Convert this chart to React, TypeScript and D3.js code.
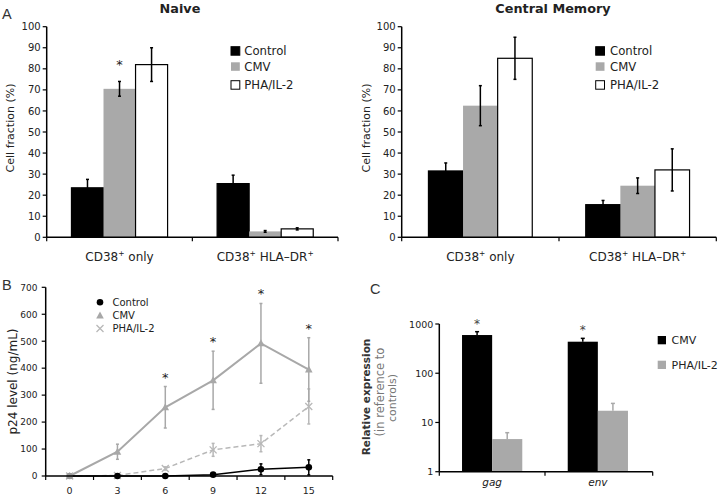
import React from "react";
import * as d3 from "d3";

const barSeries = ["Control", "CMV", "PHA/IL-2"];
const barCategories = ["only", "HLA"];
const naiveValues = [[23.5, 25.5], [70.5, 2.8], [82, 4]];
const naiveErrors = [[4, 4], [3.5, 0.4], [8, 0.5]];
const cmValues = [[31.5, 15.5], [62.5, 24.5], [85, 32]];
const cmErrors = [[3.8, 2], [9.5, 3.7], [10, 10]];
const barTicks = [0, 10, 20, 30, 40, 50, 60, 70, 80, 90, 100];

const days = [0, 3, 6, 9, 12, 15];
const p24Control = [0, 0, 0, 5, 25, 32];
const p24ControlErr = [0, 0, 0, 3, 20, 28];
const p24CMV = [0, 90, 255, 355, 492, 395];
const p24CMVErr = [0, 28, 77, 108, 148, 118];
const p24PHA = [0, 2, 28, 97, 120, 258];
const p24PHAErr = [0, 2, 6, 24, 30, 65];
const p24Ticks = [0, 100, 200, 300, 400, 500, 600, 700];
const p24Stars = [6, 9, 12, 15];

const genes = ["gag", "env"];
const exprSeries = ["CMV", "PHA/IL-2"];
const exprValues = [[597, 437], [4.6, 17.3]];
const exprErrTop = [[698, 511], [6.2, 24.4]];
const exprTicks = [1, 10, 100, 1000];

const FONT = "'DejaVu Sans', Verdana, sans-serif";
const LFONT = "'Liberation Sans', Arial, sans-serif";
const barFill = ["#000000", "#a9a9a9", "#ffffff"];
const barStroke = ["#000000", "none", "#000000"];

function CatLabel({ x, y, cat }: { x: number; y: number; cat: string }) {
  return (
    <text x={x} y={y} textAnchor="middle" fontSize={12} fontFamily={FONT} fill="#222">
      CD38<tspan fontSize={7.5} dy={-5}>+</tspan>
      <tspan dy={5}>{cat === "only" ? " only" : " HLA\u2013DR"}</tspan>
      {cat === "only" ? null : <tspan fontSize={7.5} dy={-5}>+</tspan>}
    </text>
  );
}

function BarPanel({ x0, x1, title, titleX, values, errors, star, legendX, legendTextX }: any) {
  const y = d3.scaleLinear().domain([0, 100]).range([237.3, 26.7]);
  const xb = d3.scaleBand().domain(barCategories).range([x0, x1]).padding(0);
  const inner = d3.scaleBand().domain(barSeries).range([0, xb.bandwidth() * 0.66]);
  const off = (xb.bandwidth() * (1 - 0.66)) / 2;
  return (
    <g fontFamily={FONT}>
      <text x={titleX} y={12.5} textAnchor="middle" fontSize={12.8} fontWeight="bold" fill="#222">{title}</text>
      {barSeries.map((s, si) =>
        barCategories.map((c, ci) => {
          const bx = (xb(c) as number) + off + (inner(s) as number);
          const v = values[si][ci];
          const e = errors[si][ci];
          const cx = bx + inner.bandwidth() / 2;
          return (
            <g key={s + c}>
              <rect x={bx} y={y(v)} width={inner.bandwidth()} height={y(0) - y(v)} fill={barFill[si]} stroke={barStroke[si]} strokeWidth={1.2} />
              <line x1={cx} x2={cx} y1={y(v - e)} y2={y(v + e)} stroke="#000" strokeWidth={1.5} />
              <line x1={cx - 1.5} x2={cx + 1.5} y1={y(v + e)} y2={y(v + e)} stroke="#000" strokeWidth={1.5} />
              <line x1={cx - 1.5} x2={cx + 1.5} y1={y(v - e)} y2={y(v - e)} stroke="#000" strokeWidth={1.5} />
            </g>
          );
        })
      )}
      {star ? (
        <text x={(xb("only") as number) + off + (inner("CMV") as number) + inner.bandwidth() / 2} y={69} textAnchor="middle" fontSize={13} fill="#222">*</text>
      ) : null}
      <line x1={x0} x2={x0} y1={y(100)} y2={y(0)} stroke="#000" strokeWidth={1.5} />
      <line x1={x0} x2={x1} y1={y(0)} y2={y(0)} stroke="#000" strokeWidth={1.5} />
      {barTicks.map((t) => (
        <g key={t}>
          <line x1={x0 - 4} x2={x0} y1={y(t)} y2={y(t)} stroke="#000" strokeWidth={1.2} />
          <text x={x0 - 6} y={y(t) + 3.6} textAnchor="end" fontSize={10} fill="#222">{t}</text>
        </g>
      ))}
      {[x0, x0 + xb.step(), x1].map((t, i) => (
        <line key={i} x1={t} x2={t} y1={y(0)} y2={y(0) + 4} stroke="#000" strokeWidth={1.2} />
      ))}
      {barCategories.map((c) => (
        <CatLabel key={c} x={(xb(c) as number) + xb.bandwidth() / 2} y={261} cat={c} />
      ))}
      {barSeries.map((s, si) => (
        <g key={s}>
          <rect x={legendX} y={[46.7, 62.3, 80.7][si]} width={8.8} height={8.5} fill={barFill[si]} stroke={barStroke[si]} strokeWidth={1} />
          <text x={legendTextX} y={[55.3, 71, 89.3][si]} fontSize={11.7} fill="#222">{s}</text>
        </g>
      ))}
    </g>
  );
}

function P24Panel() {
  const x = d3.scaleLinear().domain([-1.5, 16.5]).range([45.7, 332.7]);
  const y = d3.scaleLinear().domain([0, 700]).range([476, 287.3]);
  const lineGen = (vals: number[]) =>
    d3.line<number>().x((_, i) => x(days[i])).y((v) => y(v))(vals) as string;
  const gray = "#a8a8a8";
  const lgray = "#b8b8b8";
  const err = (vals: number[], errs: number[], color: string, key: string) =>
    days.map((d, i) =>
      errs[i] > 0 ? (
        <g key={key + d}>
          <line x1={x(d)} x2={x(d)} y1={y(Math.max(0, vals[i] - errs[i]))} y2={y(vals[i] + errs[i])} stroke={color} strokeWidth={1.5} />
          <line x1={x(d) - 1.5} x2={x(d) + 1.5} y1={y(vals[i] + errs[i])} y2={y(vals[i] + errs[i])} stroke={color} strokeWidth={1.5} />
          <line x1={x(d) - 1.5} x2={x(d) + 1.5} y1={y(Math.max(0, vals[i] - errs[i]))} y2={y(Math.max(0, vals[i] - errs[i]))} stroke={color} strokeWidth={1.5} />
        </g>
      ) : null
    );
  const tri = (cx: number, cy: number, c: string, k: string) => (
    <path key={k} d={`M${cx},${cy - 4}L${cx + 3.8},${cy + 3}L${cx - 3.8},${cy + 3}Z`} fill={c} />
  );
  const cross = (cx: number, cy: number, c: string, k: string) => (
    <path key={k} d={`M${cx - 3.5},${cy - 3.5}L${cx + 3.5},${cy + 3.5}M${cx - 3.5},${cy + 3.5}L${cx + 3.5},${cy - 3.5}`} stroke={c} strokeWidth={1.3} fill="none" />
  );
  const minor = d3.range(-1.5, 17, 3);
  return (
    <g fontFamily={FONT}>
      {err(p24PHA, p24PHAErr, lgray, "pe")}
      {err(p24CMV, p24CMVErr, gray, "ce")}
      <path d={lineGen(p24PHA)} fill="none" stroke={lgray} strokeWidth={1.5} strokeDasharray="5,3" />
      <path d={lineGen(p24CMV)} fill="none" stroke={gray} strokeWidth={2} />
      {days.map((d, i) => cross(x(d), y(p24PHA[i]), lgray, "px" + d))}
      {days.map((d, i) => tri(x(d), y(p24CMV[i]), gray, "ct" + d))}
      {err(p24Control, p24ControlErr, "#000", "ke")}
      <path d={lineGen(p24Control)} fill="none" stroke="#000" strokeWidth={1.5} />
      {days.map((d, i) => (
        <circle key={"kc" + d} cx={x(d)} cy={y(p24Control[i])} r={3.3} fill={d === 0 ? "#999" : "#000"} />
      ))}
      {p24Stars.map((d) => {
        const i = days.indexOf(d);
        return (
          <text key={"s" + d} x={x(d)} y={y(p24CMV[i] + p24CMVErr[i]) - 5} textAnchor="middle" fontSize={13} fill="#222">*</text>
        );
      })}
      <line x1={45.7} x2={45.7} y1={y(700)} y2={y(0)} stroke="#000" strokeWidth={1.5} />
      <line x1={45.7} x2={332.7} y1={y(0)} y2={y(0)} stroke="#000" strokeWidth={1.5} />
      {p24Ticks.map((t) => (
        <g key={t}>
          <line x1={41.7} x2={45.7} y1={y(t)} y2={y(t)} stroke="#000" strokeWidth={1.2} />
          <text x={37.5} y={y(t) + 3.3} textAnchor="end" fontSize={9} fill="#222">{t}</text>
        </g>
      ))}
      {minor.map((t) => (
        <line key={"m" + t} x1={x(t)} x2={x(t)} y1={y(0)} y2={y(0) + 4} stroke="#000" strokeWidth={1.2} />
      ))}
      {days.map((d) => (
        <text key={"l" + d} x={x(d)} y={493.5} textAnchor="middle" fontSize={9.5} fill="#222">{d}</text>
      ))}
      <text transform={`translate(17,381.5) rotate(-90)`} textAnchor="middle" fontSize={12} fill="#222">p24 level (ng/mL)</text>
      <circle cx={100} cy={302.3} r={3.3} fill="#000" />
      {tri(100, 315.5, gray, "lt")}
      {cross(100, 328.5, lgray, "lx")}
      <text x={112.5} y={305.8} fontSize={10} fill="#222">Control</text>
      <text x={112.5} y={318.8} fontSize={10} fill="#222">CMV</text>
      <text x={112.5} y={332.2} fontSize={10} fill="#222">PHA/IL-2</text>
    </g>
  );
}

function ExprPanel() {
  const x0 = 439.3, x1 = 650.7;
  const y = d3.scaleLog().domain([1, 1000]).range([471.7, 324]);
  const xb = d3.scaleBand().domain(genes).range([x0, x1]).padding(0);
  const frac = 0.57;
  const inner = d3.scaleBand().domain(exprSeries).range([0, xb.bandwidth() * frac]);
  const off = (xb.bandwidth() * (1 - frac)) / 2;
  const fills = ["#000000", "#a9a9a9"];
  return (
    <g fontFamily={FONT}>
      {exprSeries.map((s, si) =>
        genes.map((g, gi) => {
          const bx = (xb(g) as number) + off + (inner(s) as number);
          const v = exprValues[si][gi];
          const top = exprErrTop[si][gi];
          const cx = bx + inner.bandwidth() / 2;
          return (
            <g key={s + g}>
              <rect x={bx} y={y(v)} width={inner.bandwidth()} height={y(1) - y(v)} fill={fills[si]} />
              <line x1={cx} x2={cx} y1={y(v)} y2={y(top)} stroke={fills[si]} strokeWidth={1.5} />
              <line x1={cx - 2} x2={cx + 2} y1={y(top)} y2={y(top)} stroke={fills[si]} strokeWidth={1.5} />
              {si === 0 ? (
                <text x={cx} y={y(top) - 4} textAnchor="middle" fontSize={12} fill="#444">*</text>
              ) : null}
            </g>
          );
        })
      )}
      <line x1={x0} x2={x0} y1={y(1000)} y2={y(1)} stroke="#000" strokeWidth={1.5} />
      <line x1={x0} x2={x1 + 2} y1={y(1)} y2={y(1)} stroke="#000" strokeWidth={1.5} />
      {exprTicks.map((t) => (
        <g key={t}>
          <line x1={x0 - 4} x2={x0} y1={y(t)} y2={y(t)} stroke="#000" strokeWidth={1.2} />
          <text x={x0 - 6} y={y(t) + 3.5} textAnchor="end" fontSize={9.5} fill="#222">{t}</text>
        </g>
      ))}
      {[x0, x0 + xb.step(), x1 + 2].map((t, i) => (
        <line key={i} x1={t} x2={t} y1={y(1)} y2={y(1) + 4} stroke="#000" strokeWidth={1.2} />
      ))}
      {genes.map((g) => (
        <text key={g} x={(xb(g) as number) + xb.bandwidth() / 2} y={485.5} textAnchor="middle" fontSize={10.5} fontStyle="italic" fill="#222">{g}</text>
      ))}
      <text transform="translate(370,397) rotate(-90)" textAnchor="middle" fontSize={10.5} fontWeight="bold" fill="#333">Relative expression</text>
      <text transform="translate(383.5,392) rotate(-90)" textAnchor="middle" fontSize={11.5} fill="#777">(in reference to</text>
      <text transform="translate(396,398) rotate(-90)" textAnchor="middle" fontSize={11} fill="#777">controls)</text>
      {exprSeries.map((s, si) => (
        <g key={s}>
          <rect x={657.7} y={[336, 360.7][si]} width={8.3} height={8.3} fill={fills[si]} />
          <text x={671.5} y={[344.3, 369][si]} fontSize={11} fill="#222">{s}</text>
        </g>
      ))}
    </g>
  );
}

export default function App() {
  return (
    <svg width={720} height={495} style={{ position: "absolute", left: 0, top: 0, background: "#fff" }} xmlns="http://www.w3.org/2000/svg">
      <rect width={720} height={495} fill="#fff" />
      <g fontFamily={LFONT}>
        <text x={2} y={18.5} fontSize={14.5} fill="#333">A</text>
        <text x={2} y={289.5} fontSize={14.5} fill="#333">B</text>
        <text x={370} y={293.5} fontSize={14.5} fill="#333">C</text>
      </g>
      <g fontFamily={FONT}>
        <text transform="translate(14,128) rotate(-90)" textAnchor="middle" fontSize={11} fill="#222">Cell fraction (%)</text>
        <text transform="translate(369.5,128) rotate(-90)" textAnchor="middle" fontSize={11} fill="#222">Cell fraction (%)</text>
      </g>
      <BarPanel x0={46.7} x1={338} title="Naive" titleX={180} values={naiveValues} errors={naiveErrors} star={true} legendX={231} legendTextX={244.3} />
      <BarPanel x0={401.7} x1={716.3} title="Central Memory" titleX={553} values={cmValues} errors={cmErrors} star={false} legendX={595.7} legendTextX={610} />
      <P24Panel />
      <ExprPanel />
    </svg>
  );
}
